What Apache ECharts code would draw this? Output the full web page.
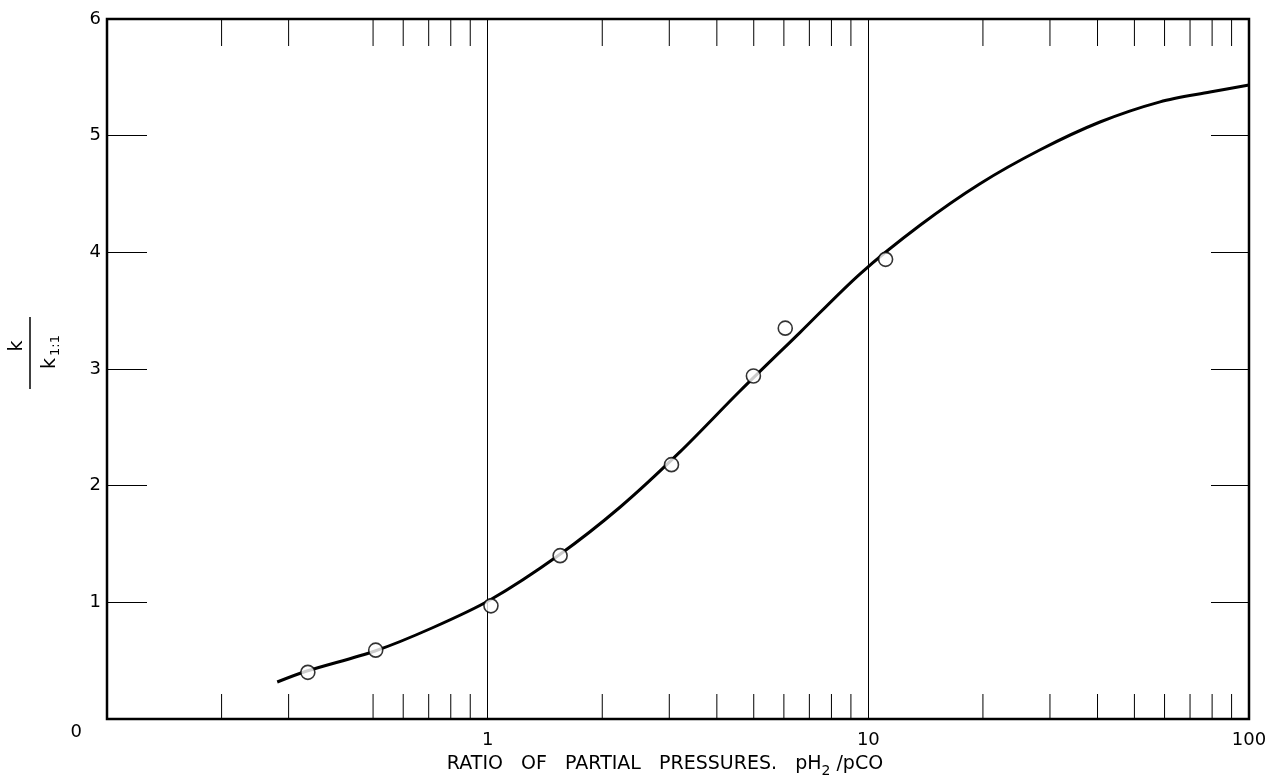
<!DOCTYPE html>
<html>
<head>
<meta charset="utf-8">
<script src="https://cdn.jsdelivr.net/npm/echarts@6/dist/echarts.min.js"></script>
<style>
  html, body { margin: 0; padding: 0; background: #fff; }
  #chart { width: 1268px; height: 778px; }
</style>
</head>
<body>
<div id="chart"></div>
<script>
// ratio pH2/pCO vs k / k(1:1)
const measuredX = [0.337, 0.508, 1.02, 1.55, 3.04, 4.99, 6.05, 11.1];
const measuredY = [0.40, 0.59, 0.97, 1.40, 2.18, 2.94, 3.35, 3.94];

const curveX = [0.28, 0.335, 0.506, 0.714, 1.014, 1.54, 2.23, 3.2, 4.6, 6.6, 9.5, 13.7, 19.6, 28.2, 40.6, 58.4, 79, 100];
const curveY = [0.317, 0.411, 0.583, 0.78, 1.02, 1.406, 1.817, 2.289, 2.811, 3.31, 3.814, 4.234, 4.586, 4.877, 5.117, 5.29, 5.374, 5.435];

// minor ticks on the log scale (the 0.4 tick is absent in the original)
const minorTicks = [0.2, 0.3, 0.5, 0.6, 0.7, 0.8, 0.9, 2, 3, 4, 5, 6, 7, 8, 9, 20, 30, 40, 50, 60, 70, 80, 90];

const font = 'DejaVu Sans';
const myChart = echarts.init(document.getElementById('chart'));

const option = {
  animation: false,
  backgroundColor: '#fff',
  grid: {
    left: 107, right: 19, top: 19, bottom: 59,
    outerBoundsMode: 'none',
    show: true, borderColor: '#000', borderWidth: 2.5
  },
  xAxis: {
    type: 'log',
    logBase: 10,
    min: 0.1,
    max: 100,
    axisLine: { show: false },
    axisTick: { show: false },
    minorTick: { show: false },
    splitLine: { show: true, lineStyle: { color: '#000', width: 1 } },
    axisLabel: {
      fontFamily: font, fontSize: 18, color: '#000', margin: 12,
      formatter: v => (v < 0.5 ? '' : String(Math.round(v)))
    },
    name: 'RATIO   OF   PARTIAL   PRESSURES.   pH{sub|2} /pCO',
    nameLocation: 'middle',
    nameGap: 32,
    nameTextStyle: {
      fontFamily: font, fontSize: 19, color: '#000', padding: [0, 26, 0, 0],
      rich: { sub: { fontFamily: font, fontSize: 14, color: '#000', padding: [13, 0, 0, 0] } }
    }
  },
  yAxis: [
    {
      type: 'value',
      min: 0,
      max: 6,
      interval: 1,
      position: 'left',
      axisLine: { show: false },
      axisTick: { show: true, inside: true, length: 40, lineStyle: { color: '#000', width: 1 } },
      splitLine: { show: false },
      axisLabel: {
        fontFamily: font, fontSize: 18, color: '#000', margin: 6,
        formatter: v => (v === 0 ? '{z|0}' : String(v)),
        rich: { z: { fontFamily: font, fontSize: 18, color: '#000', padding: [26, 19, 0, 0] } }
      }
    },
    {
      type: 'value',
      min: 0,
      max: 6,
      interval: 1,
      position: 'right',
      axisLine: { show: false },
      axisTick: { show: true, inside: true, length: 38, lineStyle: { color: '#000', width: 1 } },
      splitLine: { show: false },
      axisLabel: { show: false }
    }
  ],
  graphic: [
    {
      type: 'text', x: 17, y: 346, rotation: Math.PI / 2,
      style: { text: 'k', font: '19px "DejaVu Sans"', fill: '#000', align: 'center', verticalAlign: 'middle' }
    },
    {
      type: 'line', shape: { x1: 30, y1: 317, x2: 30, y2: 389 },
      style: { stroke: '#000', lineWidth: 1.5 }
    },
    {
      type: 'text', x: 50, y: 352, rotation: Math.PI / 2,
      style: {
        text: '{k|k}{s|1:1}', align: 'center', verticalAlign: 'middle',
        rich: {
          k: { font: '19px "DejaVu Sans"', fill: '#000' },
          s: { font: '13px "DejaVu Sans"', fill: '#000', padding: [12, 0, 0, 2] }
        }
      }
    }
  ],
  series: [
    {
      name: 'ticks',
      type: 'custom',
      silent: true,
      z: 1,
      data: minorTicks.map(v => [v, 0]),
      renderItem: function (params, api) {
        const pb = api.coord([api.value(0), 0]);
        const pt = api.coord([api.value(0), 6]);
        return {
          type: 'group',
          children: [
            { type: 'line', shape: { x1: pb[0], y1: pb[1], x2: pb[0], y2: pb[1] - 25 }, style: { stroke: '#000', lineWidth: 1 } },
            { type: 'line', shape: { x1: pt[0], y1: pt[1], x2: pt[0], y2: pt[1] + 27 }, style: { stroke: '#000', lineWidth: 1 } }
          ]
        };
      }
    },
    {
      name: 'fit',
      type: 'line',
      smooth: 0.3,
      symbol: 'none',
      z: 2,
      lineStyle: { color: '#000', width: 3 },
      data: curveX.map((x, i) => [x, curveY[i]])
    },
    {
      name: 'measured',
      type: 'scatter',
      symbol: 'circle',
      symbolSize: 14,
      z: 3,
      itemStyle: { color: '#fff', borderColor: '#000', borderWidth: 1.6 },
      data: measuredX.map((x, i) => [x, measuredY[i]])
    }
  ]
};

option && myChart.setOption(option);
</script>
</body>
</html>
